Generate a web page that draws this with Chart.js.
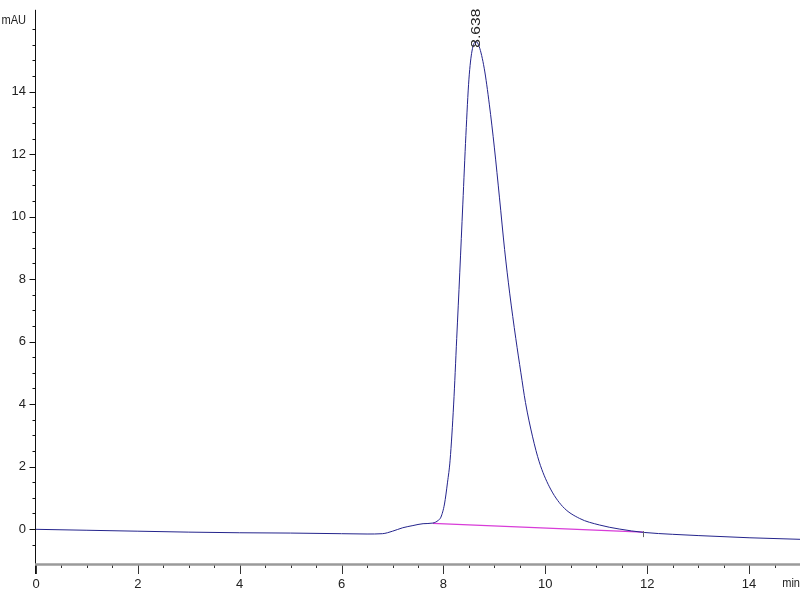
<!DOCTYPE html>
<html>
<head>
<meta charset="utf-8">
<script src="https://cdn.jsdelivr.net/npm/chart.js@4.4.0/dist/chart.umd.min.js"></script>
<style>
  html, body { margin: 0; padding: 0; background: #fff; }
</style>
</head>
<body>
<canvas id="grafico" width="800" height="600"></canvas>
<script>
const tempo = [0, 1, 2, 3, 4, 5, 6, 6.5, 6.8, 7.0, 7.2, 7.4, 7.6, 7.79, 7.9, 7.95,
  8.02, 8.08, 8.13, 8.2, 8.26, 8.32, 8.38, 8.44, 8.5, 8.56, 8.638, 8.7, 8.8, 8.9,
  9.0, 9.1, 9.2, 9.3, 9.42, 9.52, 9.61, 9.75, 9.88, 10.08, 10.34, 10.67, 11.06,
  11.45, 11.94, 12.5, 13.0, 14.0, 15.0];
const absorb = [-0.01, -0.04, -0.07, -0.1, -0.12, -0.13, -0.15, -0.16, -0.15, -0.07,
  0.04, 0.11, 0.17, 0.19, 0.28, 0.38, 0.8, 1.5, 2.2, 4.0, 6.1, 8.2, 10.4, 12.6,
  14.4, 15.3, 15.6, 15.45, 14.75, 13.6, 12.2, 10.6, 8.95, 7.55, 6.1, 5.0, 4.05, 2.95,
  2.15, 1.35, 0.72, 0.34, 0.13, 0.0, -0.11, -0.17, -0.21, -0.28, -0.33];

// linha de base da integracao
const baseT = [7.79, 11.92];
const baseV = [0.18, -0.10];

// rotulo do pico
const picoT = 8.638;
const picoTexto = '8.638';

// rotulos dos eixos
const xRotulos = [0, 2, 4, 6, 8, 10, 12, 14];
const yRotulos = [0, 2, 4, 6, 8, 10, 12, 14];

const fonte = '13px "Liberation Sans", Arial, sans-serif';

function pontos(xs, ys) {
  return xs.map(function (x, i) { return { x: x, y: ys[i] }; });
}

function meioPasso(v) {
  return Math.abs(v * 2 - Math.round(v * 2)) < 1e-6;
}

// desenha eixos e marcas de escala
const eixos = {
  id: 'eixos',
  beforeDatasetsDraw(chart) {
    const ctx = chart.ctx;
    const a = chart.chartArea;
    const sx = chart.scales.x;
    const sy = chart.scales.y;
    ctx.save();

    // eixo y
    ctx.strokeStyle = '#111';
    ctx.lineWidth = 1;
    ctx.beginPath();
    ctx.moveTo(a.left - 0.5, a.top);
    ctx.lineTo(a.left - 0.5, a.bottom + 10);
    ctx.stroke();

    sy.ticks.forEach(function (t) {
      if (!meioPasso(t.value)) return;
      const y = Math.round(sy.getPixelForValue(t.value)) + 0.5;
      const len = yRotulos.includes(t.value) ? 6 : 3;
      ctx.beginPath();
      ctx.moveTo(a.left - 0.5 - len, y);
      ctx.lineTo(a.left - 0.5, y);
      ctx.stroke();
    });

    // marcas do eixo x
    ctx.strokeStyle = '#333';
    sx.ticks.forEach(function (t) {
      if (!meioPasso(t.value)) return;
      const x = Math.round(sx.getPixelForValue(t.value)) + 0.5;
      const len = xRotulos.includes(t.value) ? 10 : 4;
      ctx.beginPath();
      ctx.moveTo(x, a.bottom);
      ctx.lineTo(x, a.bottom + len);
      ctx.stroke();
    });

    // eixo x (cinza grosso)
    ctx.strokeStyle = '#9a9a9a';
    ctx.lineWidth = 2.5;
    ctx.beginPath();
    ctx.moveTo(a.left - 1, a.bottom + 0.5);
    ctx.lineTo(a.right, a.bottom + 0.5);
    ctx.stroke();

    // unidades
    ctx.fillStyle = '#222';
    ctx.font = fonte;
    ctx.textBaseline = 'middle';
    ctx.textAlign = 'right';
    ctx.save();
    ctx.translate(a.left - 10, a.top + 11);
    ctx.scale(0.85, 1);
    ctx.fillText('mAU', 0, 0);
    ctx.restore();
    ctx.save();
    ctx.translate(a.right, a.bottom + 19);
    ctx.scale(0.85, 1);
    ctx.fillText('min', 0, 0);
    ctx.restore();
    ctx.restore();
  },
  afterDatasetsDraw(chart) {
    const ctx = chart.ctx;
    const sx = chart.scales.x;
    const sy = chart.scales.y;
    ctx.save();

    // marca no fim da linha de base
    const xf = Math.round(sx.getPixelForValue(baseT[1])) + 0.5;
    const yf = sy.getPixelForValue(baseV[1]);
    ctx.strokeStyle = '#666';
    ctx.lineWidth = 1;
    ctx.beginPath();
    ctx.moveTo(xf, yf - 1);
    ctx.lineTo(xf, yf + 5);
    ctx.stroke();

    // rotulo do pico, vertical
    const picoV = Math.max.apply(null, absorb);
    const x = sx.getPixelForValue(picoT);
    const y = sy.getPixelForValue(picoV) + 6;
    ctx.translate(x, y);
    ctx.rotate(-Math.PI / 2);
    ctx.scale(1.2, 1);
    ctx.fillStyle = '#222';
    ctx.font = fonte;
    ctx.textAlign = 'left';
    ctx.textBaseline = 'middle';
    ctx.fillText(picoTexto, 0, 0);
    ctx.restore();
  }
};

const ctx = document.getElementById('grafico');
const grafico = new Chart(ctx, {
  type: 'scatter',
  data: {
    datasets: [{
      label: 'sinal',
      data: pontos(tempo, absorb),
      showLine: true,
      borderColor: '#24248c',
      borderWidth: 1,
      pointRadius: 0,
      cubicInterpolationMode: 'monotone',
      fill: false
    }, {
      label: 'linha de base',
      data: pontos(baseT, baseV),
      showLine: true,
      borderColor: '#d83cd8',
      borderWidth: 1.2,
      pointRadius: 0,
      fill: false
    }]
  },
  options: {
    responsive: false,
    animation: false,
    devicePixelRatio: 1,
    layout: { padding: { top: 1, right: 0, left: 0, bottom: 0 } },
    plugins: {
      legend: { display: false },
      tooltip: { enabled: false }
    },
    scales: {
      x: {
        type: 'linear',
        min: 0,
        max: 15,
        grid: { display: false },
        border: { display: false },
        afterFit: function (s) { s.height = 36; s.paddingLeft = 0; s.paddingRight = 0; },
        ticks: {
          stepSize: 0.5,
          autoSkip: false,
          maxRotation: 0,
          padding: 5,
          color: '#222',
          font: { family: '"Liberation Sans", Arial, sans-serif', size: 13 },
          callback: function (v) { return xRotulos.includes(v) ? String(v) : ''; }
        }
      },
      y: {
        type: 'linear',
        min: -1.12,
        max: 16.62,
        grid: { display: false },
        border: { display: false },
        afterFit: function (s) { s.width = 36; },
        ticks: {
          stepSize: 0.5,
          autoSkip: false,
          padding: 2,
          color: '#222',
          font: { family: '"Liberation Sans", Arial, sans-serif', size: 13 },
          callback: function (v) { return yRotulos.includes(v) ? String(v) : ''; }
        }
      }
    }
  },
  plugins: [eixos]
});
</script>
</body>
</html>
